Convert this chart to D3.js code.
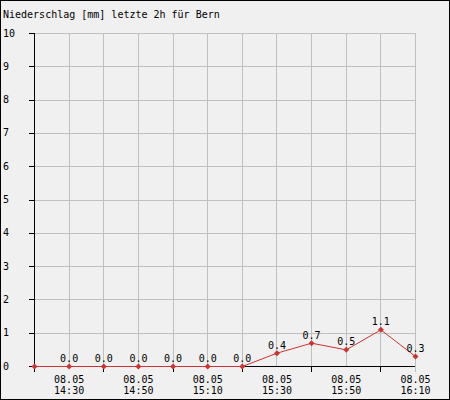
<!DOCTYPE html>
<html>
<head>
<meta charset="utf-8">
<script src="https://cdn.jsdelivr.net/npm/d3@7"></script>
<style>
  html, body { margin: 0; padding: 0; background: #f0f0f0; }
  svg { display: block; }
  text { font-family: "DejaVu Sans Mono", monospace; font-size: 10px; fill: #000; }
</style>
</head>
<body>
<script>
const title = "Niederschlag [mm] letzte 2h für Bern";
const dates = ["08.05","08.05","08.05","08.05","08.05","08.05","08.05","08.05","08.05","08.05","08.05","08.05"];
const times = ["14:20","14:30","14:40","14:50","15:00","15:10","15:20","15:30","15:40","15:50","16:00","16:10"];
const values = [0, 0, 0, 0, 0, 0, 0, 0.4, 0.7, 0.5, 1.1, 0.3];
const yTicks = [0,1,2,3,4,5,6,7,8,9,10];

const W = 450, H = 400;
const svg = d3.select("body").append("svg").attr("width", W).attr("height", H);
svg.append("rect").attr("x", 0.5).attr("y", 0.5).attr("width", W - 1).attr("height", H - 1)
  .attr("fill", "#f0f0f0").attr("stroke", "#000");

const x = d3.scaleLinear().domain([0, times.length - 1]).range([34, 415]);
const y = d3.scaleLinear().domain([0, 10]).range([366, 33]);
const px = v => Math.round(v) + 0.5;

svg.append("text").attr("x", 3).attr("y", 17.5).text(title);

// grid
const grid = svg.append("g").attr("stroke", "#c0c0c0").attr("stroke-width", 1);
yTicks.filter(t => t > 0).forEach(t => {
  grid.append("line").attr("x1", x(0)).attr("x2", x(times.length - 1))
    .attr("y1", px(y(t))).attr("y2", px(y(t)));
});
d3.range(1, times.length).forEach(i => {
  grid.append("line").attr("x1", px(x(i))).attr("x2", px(x(i)))
    .attr("y1", y(10)).attr("y2", y(0) + (i === times.length - 1 ? 6 : 0));
});

// axes
const ax = svg.append("g").attr("stroke", "#000").attr("stroke-width", 1);
ax.append("line").attr("x1", px(x(0))).attr("x2", px(x(0))).attr("y1", y(10)).attr("y2", y(0) + 6);
ax.append("line").attr("x1", x(0)).attr("x2", x(times.length - 1)).attr("y1", px(y(0))).attr("y2", px(y(0)));
yTicks.forEach(t => {
  ax.append("line").attr("x1", 29).attr("x2", x(0)).attr("y1", px(y(t))).attr("y2", px(y(t)));
});
d3.range(0, times.length).filter(i => i % 2 === 0).forEach(i => {
  ax.append("line").attr("x1", px(x(i))).attr("x2", px(x(i))).attr("y1", y(0)).attr("y2", y(0) + 6);
});

// y labels
svg.append("g").selectAll("text").data(yTicks).join("text")
  .attr("x", 3).attr("y", d => y(d) + 3.5).text(d => d);

// x labels
const xl = svg.append("g").selectAll("g").data(d3.range(1, times.length, 2)).join("g");
xl.append("text").attr("text-anchor", "middle").attr("x", i => x(i) + 0.5).attr("y", 382.5).text(i => dates[i]);
xl.append("text").attr("text-anchor", "middle").attr("x", i => x(i) + 0.5).attr("y", 394).text(i => times[i]);

// line
const red = "#cc3333";
svg.append("path").datum(values)
  .attr("fill", "none").attr("stroke", red).attr("stroke-width", 1)
  .attr("d", d3.line().x((d, i) => x(i) + 0.5).y(d => y(d) + 0.5));

svg.append("g").selectAll("path").data(values).join("path")
  .attr("transform", (d, i) => `translate(${x(i) + 0.5},${y(d) + 0.5}) rotate(45)`)
  .attr("d", d3.symbol(d3.symbolSquare, 18)())
  .attr("fill", red);

svg.append("g").selectAll("text").data(values.map((v, i) => ({v, i})).filter(d => d.i > 0)).join("text")
  .attr("text-anchor", "middle").attr("x", d => x(d.i) + 0.5).attr("y", d => y(d.v) - 4)
  .text(d => d.v.toFixed(1));
</script>
</body>
</html>
